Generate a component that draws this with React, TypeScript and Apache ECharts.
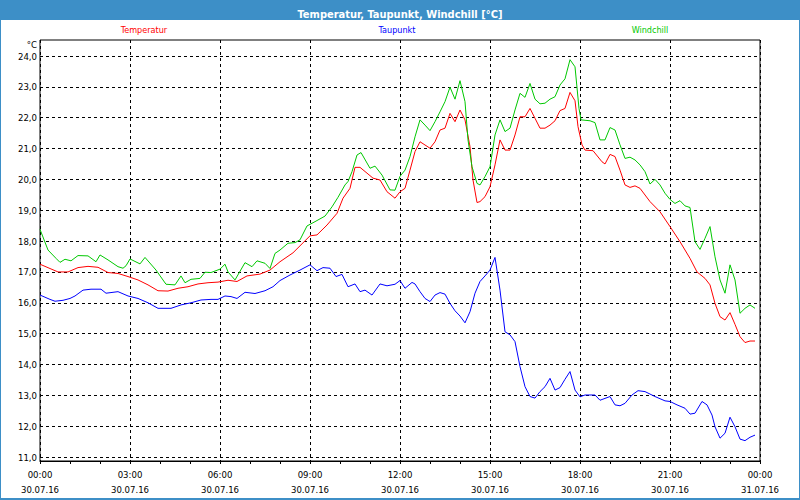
import React, { useEffect, useRef } from 'react';
import * as echarts from 'echarts';

// minutes since 30.07.16 00:00
const tempMinutes = [0,20,36,56,76,96,116,136,156,176,196,216,236,256,276,296,316,336,356,376,394,414,440,460,480,506,540,554,574,594,606,620,630,640,666,680,694,710,720,730,740,750,760,780,790,800,810,820,830,840,850,860,866,874,880,890,900,910,920,930,940,950,960,970,980,990,1000,1010,1020,1030,1040,1050,1060,1070,1076,1084,1090,1106,1124,1130,1140,1150,1160,1170,1180,1190,1200,1220,1240,1260,1280,1300,1314,1330,1340,1350,1360,1370,1380,1390,1400,1410,1420,1430];
const tempValues = [17.25,17.11,17.0,17.0,17.14,17.18,17.15,16.98,16.95,16.85,16.74,16.58,16.39,16.38,16.47,16.52,16.61,16.65,16.67,16.73,16.69,16.87,16.93,17.06,17.33,17.62,18.17,18.2,18.52,18.9,19.39,19.71,20.39,20.39,20.04,19.98,19.6,19.39,19.6,19.71,20.3,20.9,21.22,21.01,21.22,21.6,21.66,22.14,21.87,22.25,21.93,21.06,19.98,19.25,19.28,19.44,19.76,20.47,21.28,20.95,20.95,21.44,22.03,22.03,22.3,21.98,21.66,21.66,21.76,21.9,22.23,22.3,22.82,22.55,21.71,21.12,20.95,20.93,20.57,20.5,20.81,20.74,20.3,19.82,19.74,19.79,19.71,19.28,18.95,18.47,17.98,17.44,17.0,16.79,16.58,15.98,15.55,15.44,15.68,15.3,14.9,14.71,14.76,14.76];

const dewMinutes = [0,20,30,46,60,70,86,102,122,132,156,176,196,216,236,262,282,302,322,342,356,370,382,394,410,430,450,466,480,500,520,540,554,566,580,592,604,616,630,640,650,664,680,694,710,720,730,744,750,760,770,780,790,800,810,820,830,840,850,860,870,880,890,900,910,920,930,940,950,960,970,980,990,1000,1010,1020,1030,1040,1050,1060,1070,1080,1090,1110,1120,1140,1150,1160,1170,1184,1196,1210,1230,1250,1260,1274,1290,1300,1310,1324,1334,1344,1350,1360,1370,1380,1390,1400,1410,1420,1430];
const dewValues = [16.25,16.11,16.05,16.08,16.14,16.22,16.41,16.44,16.44,16.31,16.36,16.22,16.14,16.0,15.82,15.82,15.93,16.0,16.09,16.11,16.11,16.22,16.2,16.14,16.34,16.3,16.39,16.52,16.72,16.9,17.06,17.23,17.04,17.14,17.12,16.85,16.92,16.52,16.61,16.36,16.41,16.25,16.61,16.55,16.6,16.72,16.47,16.66,16.61,16.36,16.14,16.04,16.25,16.33,16.28,15.98,15.74,15.57,15.35,15.71,16.31,16.69,16.87,17.06,17.47,16.41,15.06,14.96,14.74,13.93,13.28,12.96,12.91,13.12,13.28,13.55,13.17,13.25,13.52,13.77,13.17,12.95,13.01,13.01,12.84,12.96,12.69,12.66,12.74,13.01,13.15,13.12,12.96,12.82,12.8,12.69,12.58,12.39,12.42,12.8,12.69,12.36,11.98,11.61,11.77,12.29,11.98,11.58,11.53,11.64,11.71];

const chillMinutes = [0,16,32,40,50,62,76,96,112,120,136,156,166,172,180,200,210,232,252,270,282,290,302,320,330,342,360,370,376,390,410,424,434,450,460,470,480,496,510,520,534,550,570,584,596,610,616,624,634,642,660,670,684,700,710,720,730,740,750,760,770,780,790,800,810,820,830,840,850,856,864,874,880,890,900,910,920,930,940,950,960,970,980,990,1000,1010,1020,1030,1040,1050,1060,1070,1078,1082,1100,1110,1120,1130,1140,1150,1160,1170,1180,1190,1200,1210,1220,1230,1240,1250,1260,1270,1280,1290,1300,1310,1320,1330,1340,1350,1360,1370,1380,1390,1400,1410,1420,1430];
const chillValues = [18.38,17.71,17.44,17.31,17.41,17.36,17.53,17.52,17.33,17.55,17.39,17.17,17.12,17.2,17.42,17.26,17.47,17.06,16.6,16.58,16.87,16.65,16.76,16.79,16.99,16.98,17.09,17.25,17.0,16.74,17.3,17.17,17.36,17.28,17.11,17.6,17.71,17.93,17.95,18.04,18.49,18.63,18.81,19.11,19.42,19.82,19.93,20.25,20.79,20.87,20.36,20.43,20.14,19.66,19.65,20.1,20.3,20.74,21.38,21.93,21.76,21.58,21.87,22.19,22.52,22.99,22.6,23.2,22.52,21.28,20.41,19.87,19.82,20.09,20.41,21.44,21.93,21.55,21.66,22.25,22.79,22.66,23.11,22.6,22.45,22.47,22.6,22.68,23.06,23.26,23.88,23.65,22.3,21.93,21.9,21.84,21.28,21.28,21.68,21.6,21.12,20.68,20.72,20.63,20.47,20.25,19.85,20.0,19.82,19.55,19.35,19.22,19.31,19.14,19.09,17.98,17.73,18.09,18.47,17.49,16.74,16.31,17.23,16.74,15.66,15.82,15.93,15.82];

const xTickTimes = ['00:00','03:00','06:00','09:00','12:00','15:00','18:00','21:00','00:00'];
const xTickDates = ['30.07.16','30.07.16','30.07.16','30.07.16','30.07.16','30.07.16','30.07.16','30.07.16','31.07.16'];
const seriesNames = ['Temperatur', 'Taupunkt', 'Windchill'];
const seriesColors = ['#ff0000', '#0000ff', '#00c800'];
const titleText = 'Temperatur, Taupunkt, Windchill [°C]';
const unitText = '°C';

const FONT = '"DejaVu Sans Condensed", "Liberation Sans", sans-serif';

function zip(a: number[], b: number[]) {
  return a.map((m, i) => [m, b[i]]);
}

export default function App() {
  const ref = useRef<HTMLDivElement>(null);
  useEffect(() => {
    if (!ref.current) return;
    const chart = echarts.init(ref.current, null, { renderer: 'svg' });
    const dataSets = [zip(tempMinutes, tempValues), zip(dewMinutes, dewValues), zip(chillMinutes, chillValues)];
    const legendX = [144, 397, 650];
    chart.setOption({
      animation: false,
      backgroundColor: '#ffffff',
      textStyle: { fontFamily: FONT },
      title: {
        text: titleText,
        left: 'center',
        top: 4,
        textStyle: { color: '#ffffff', fontSize: 11, fontWeight: 'bold', fontFamily: FONT },
      },
      grid: [
        { left: 40, right: 40, top: 56, bottom: 43 },
        { left: 40, right: 40, top: 40, bottom: 39, show: true, borderColor: '#000', borderWidth: 1, backgroundColor: 'transparent' },
      ],
      xAxis: [
        { gridIndex: 0, type: 'value', min: 0, max: 1440, show: false },
        {
          gridIndex: 1, type: 'value', min: 0, max: 1440, interval: 180,
          axisLine: { show: true, lineStyle: { color: '#000', width: 1 } },
          axisTick: { show: true, length: 3, lineStyle: { color: '#000' } },
          minorTick: { show: true, splitNumber: 3, length: 3, lineStyle: { color: '#000' } },
          splitLine: { show: true, lineStyle: { color: '#000', type: [3, 3], width: 1 } },
          axisLabel: {
            color: '#000', fontSize: 9.5, margin: 6, lineHeight: 15, fontFamily: FONT,
            formatter: (v: number) => {
              const i = Math.round(v / 180);
              return xTickTimes[i] + '\n' + xTickDates[i];
            },
          },
        },
      ],
      yAxis: [
        {
          gridIndex: 0, type: 'value', min: 11, max: 24, interval: 1,
          axisLine: { show: false }, axisTick: { show: false },
          splitLine: { show: true, lineStyle: { color: '#000', type: [3, 3], width: 1 } },
          axisLabel: {
            color: '#000', fontSize: 9.5, margin: 3, fontFamily: FONT,
            formatter: (v: number) => v.toFixed(1).replace('.', ','),
          },
        },
        { gridIndex: 1, type: 'value', min: 0, max: 1, show: false },
      ],
      series: dataSets.map((d, i) => ({
        name: seriesNames[i],
        type: 'line',
        xAxisIndex: 0,
        yAxisIndex: 0,
        data: d,
        showSymbol: false,
        symbol: 'none',
        lineStyle: { color: seriesColors[i], width: 1 },
        itemStyle: { color: seriesColors[i] },
        z: 3,
      })),
      graphic: [
        { type: 'rect', z: 0, shape: { x: 0, y: 0, width: 800, height: 20 }, style: { fill: '#3d8fc7' } },
        { type: 'rect', z: 0, shape: { x: 0, y: 0, width: 1, height: 500 }, style: { fill: '#3d8fc7' } },
        { type: 'rect', z: 0, shape: { x: 799, y: 0, width: 1, height: 500 }, style: { fill: '#3d8fc7' } },
        { type: 'rect', z: 0, shape: { x: 0, y: 498, width: 800, height: 2 }, style: { fill: '#3d8fc7' } },
        { type: 'text', x: 37, y: 44, style: { text: unitText, align: 'right', verticalAlign: 'middle', fontSize: 9.5, fill: '#000', fontFamily: FONT } },
        ...seriesNames.map((n, i) => ({
          type: 'text', x: legendX[i], y: 30,
          style: { text: n, align: 'center', verticalAlign: 'middle', fontSize: 9, fill: seriesColors[i], fontFamily: FONT },
        })),
      ],
    });
    return () => chart.dispose();
  }, []);
  return <div ref={ref} style={{ position: 'fixed', left: 0, top: 0, width: 800, height: 500 }} />;
}
